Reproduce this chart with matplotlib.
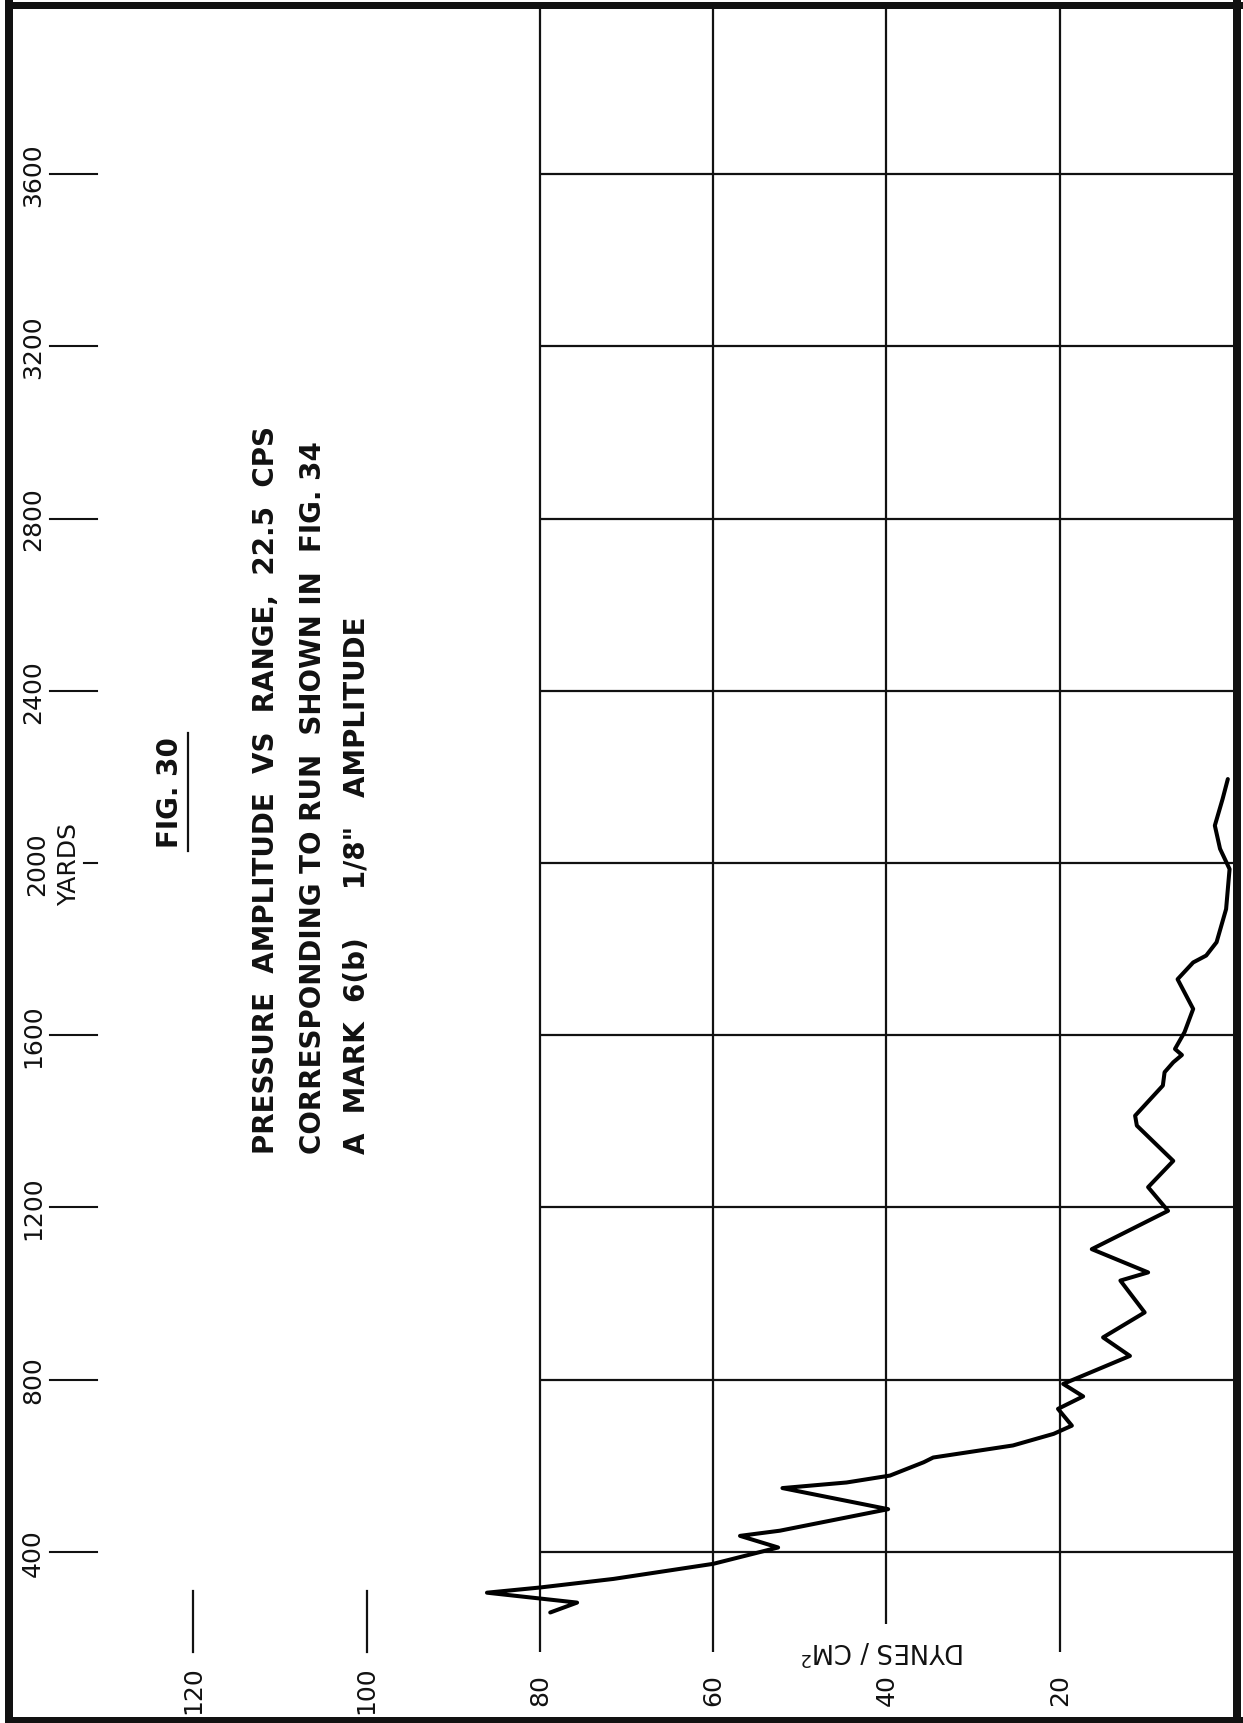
import matplotlib.pyplot as plt
from matplotlib.patches import Rectangle

plt.rcParams['font.family'] = ['DejaVu Sans']

# Pressure amplitude trace: range in yards, amplitude in dynes/cm^2
range_yd = [259, 282, 305, 317, 337, 372, 410, 437, 449, 499,
            548, 561, 577, 608, 619, 647, 674, 693, 732, 761,
            790, 855, 898, 956, 1030, 1049, 1103, 1192, 1247, 1308,
            1390, 1413, 1483, 1514, 1537, 1554, 1568, 1607, 1661, 1730,
            1769, 1785, 1816, 1893, 1986, 2033, 2087, 2149, 2195]
pressure = [78.8, 75.7, 86.1, 80.0, 71.5, 60.0, 52.5, 56.9, 52.3, 39.8,
            52.0, 44.6, 39.6, 35.7, 34.6, 25.4, 20.7, 18.6, 20.2, 17.3,
            19.6, 11.9, 15.0, 10.2, 13.0, 9.8, 16.3, 7.5, 9.8, 6.9,
            11.1, 11.3, 8.1, 7.9, 6.9, 5.9, 6.7, 5.6, 4.6, 6.4,
            4.6, 3.1, 1.9, 0.8, 0.4, 1.5, 2.1, 1.2, 0.6]

# Axis ticks
range_ticks = [400, 800, 1200, 1600, 2000, 2400, 2800, 3200, 3600]
range_labels = ["400", "800", "1200", "1600", "2000", "2400", "2800", "3200", "3600"]
grid_dynes = [80, 60, 40, 20]
dyne_ticks = [120, 100, 80, 60, 40, 20]
dyne_labels = ["120", "100", "80", "60", "40", "20"]

title_lines = ["PRESSURE  AMPLITUDE  VS  RANGE,  22.5  CPS",
               "CORRESPONDING TO RUN  SHOWN IN  FIG. 34",
               "A  MARK  6(b)     1/8\"   AMPLITUDE"]

W, H = 1243, 1724
fig = plt.figure(figsize=(W / 100, H / 100), dpi=100)
fig.patch.set_facecolor("white")

# sheet is turned on its side: dynes run right-to-left, yards bottom-to-top
ax = fig.add_axes([0, 0, 1, 1])
ax.set_xlim(142.3, -1.15)
ax.set_ylim(2.3, 4007)
ax.axis("off")

ink = "#111111"
lw_grid = 1.6

# grid box (the 40 line stops short of the unit label)
for d in grid_dynes:
    bottom = 232 if d == 40 else 167
    ax.vlines(d, bottom, 3984, color=ink, lw=lw_grid)
ax.hlines(range_ticks, 80, 0, color=ink, lw=lw_grid)

# range ticks and labels along the left edge
for r, lab in zip(range_ticks, range_labels):
    x0 = 132.6 if r == 2000 else 136.5
    xl = 138.0 if r == 2000 else 138.5
    ax.plot([x0, 131.1], [r, r], color=ink, lw=1.5)
    ax.text(xl, r, lab, rotation=90, ha="center", va="center",
            rotation_mode="anchor", fontsize=18, color=ink)
ax.text(134.3, 2000, "YARDS", rotation=90, ha="center", va="center",
        rotation_mode="anchor", fontsize=18, color=ink)

# amplitude labels along the bottom edge
for d, lab in zip(dyne_ticks, dyne_labels):
    ax.text(d, 81, lab, rotation=90, ha="center", va="center",
            rotation_mode="anchor", fontsize=18, color=ink)
for d in [120, 100]:
    ax.plot([d, d], [167, 309], color=ink, lw=1.6)
ax.text(40.4, 172, "DYNES / CM$^2$", rotation=180, ha="center", va="center",
        rotation_mode="anchor", fontsize=18.5, color=ink)

# figure number and caption
ax.text(122.7, 2165, "FIG. 30", rotation=90, ha="center", va="center",
        rotation_mode="anchor", fontsize=20, fontweight="bold", color=ink)
ax.plot([120.6, 120.6], [2028, 2302], color=ink, lw=1.6)
for x, line in zip([111.6, 106.2, 101.1], title_lines):
    ax.text(x, 1326, line, rotation=90, ha="left", va="center",
            rotation_mode="anchor", fontsize=20, fontweight="bold", color=ink)

# the trace
ax.plot(pressure, range_yd, color="black", lw=2.9,
        solid_joinstyle="round", solid_capstyle="round")

# page border
for x, y, w, h in [(5, 0, 8, H), (5, H - 10, W - 5, 7), (1233, 0, 8, H),
                   (5, 0, W - 5, 6)]:
    fig.add_artist(Rectangle((x / W, y / H), w / W, h / H, transform=fig.transFigure,
                             facecolor=ink, edgecolor="none"))

fig.savefig("out.png", dpi=100, facecolor="white")
